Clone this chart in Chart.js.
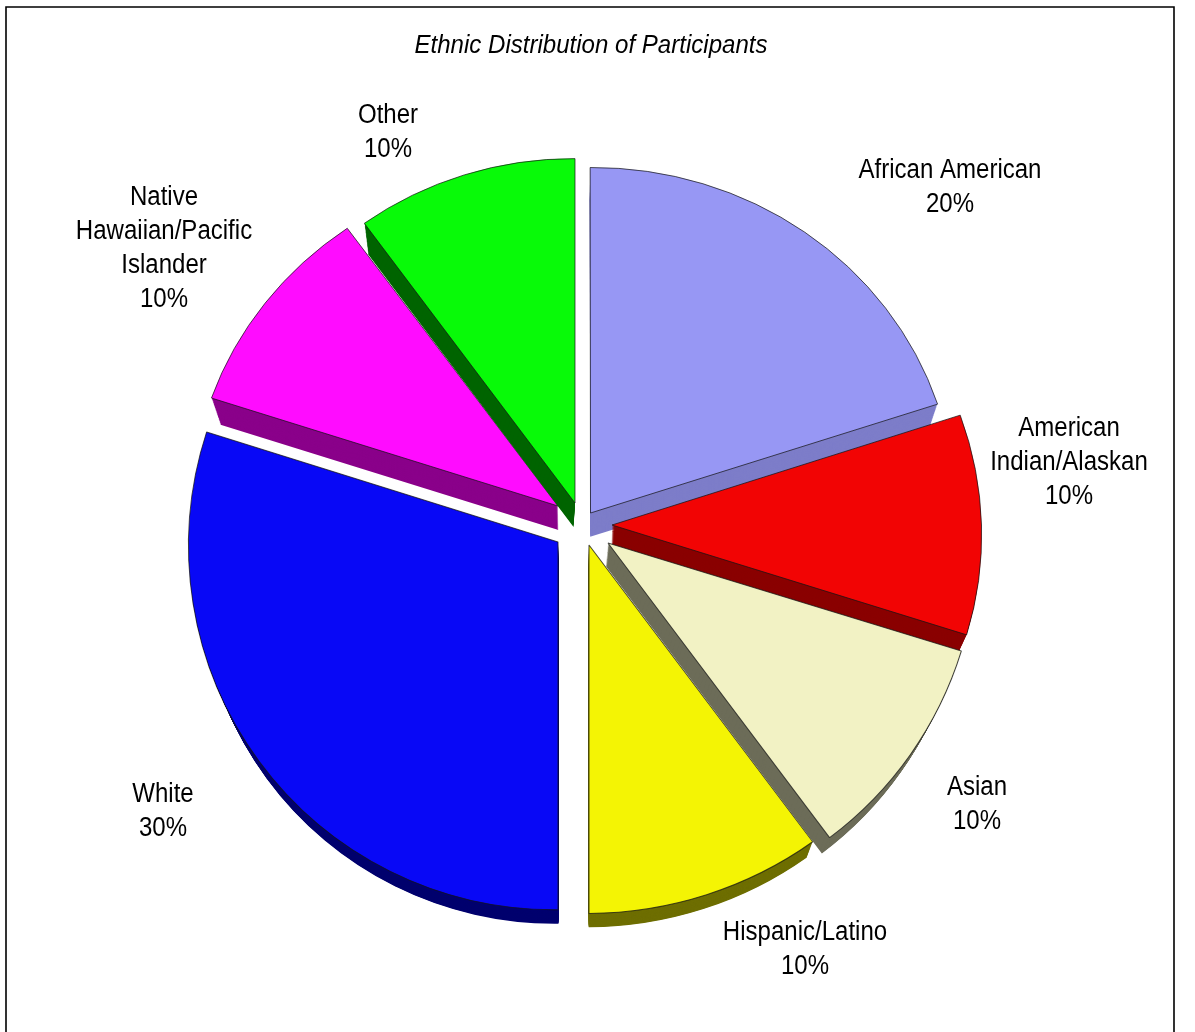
<!DOCTYPE html>
<html>
<head>
<meta charset="utf-8">
<title>Ethnic Distribution of Participants</title>
<script src="https://cdn.jsdelivr.net/npm/chart.js@4"></script>
<style>
  html, body { margin: 0; padding: 0; background: #fff; overflow: hidden; }
  canvas { display: block; }
</style>
</head>
<body>
<canvas id="ethnic-chart" width="1195" height="1032"></canvas>
<script>
// Chart data
const chartTitle = 'Ethnic Distribution of Participants';
const categories = ['African American', 'American Indian/Alaskan', 'Asian', 'Hispanic/Latino', 'White', 'Native Hawaiian/Pacific Islander', 'Other'];
const shares = [20, 10, 10, 10, 30, 10, 10];

// How the category names wrap in the picture
const labelLines = [
  ['African American'],
  ['American', 'Indian/Alaskan'],
  ['Asian'],
  ['Hispanic/Latino'],
  ['White'],
  ['Native', 'Hawaiian/Pacific', 'Islander'],
  ['Other']
];

// Slice colours
const faceColors = ['#9797f4', '#f20404', '#f2f2c4', '#f4f404', '#0808f6', '#ff0cff', '#08fa08'];
const sideColors = ['#7d7dc9', '#8a0000', '#6c6c58', '#6e6e00', '#00006e', '#8a008a', '#006400'];

// Style of the fake 3D: where each slice sits, its foreshortening (canvas transform a, b, c, d), paint order
const sliceShift = [[12.5, -14], [34, -2], [30, 16], [11, 18], [-20, 15], [-20, -21], [-3, -24]];
const sliceShape = [
  [0.988, -0.006, 0.001, 0.935],
  [1, 0, 0.028, 0.962],
  [1.001, -0.017, 0.014, 0.998],
  [1.03, -0.006, 0, 0.997],
  [1, -0.0105, 0, 0.995],
  [0.991, 0.007, -0.015, 0.924],
  [0.97, 0.005, 0, 0.932]
];
const sideLean = [0, 0, -1.5, 0, 0, 0, -1.5];
const paintOrder = [3, 4, 5, 6, 0, 1, 2];
const vanishPoint = { x: 578, y: 1477 };
const depth = 0.0247;

// Where the labels go (centre of first line), and the squeeze the narrow font needs
const labelAnchors = [[950, 171], [1069, 429], [977, 788], [805, 933], [163, 795], [164, 198], [388, 116]];
const lineStep = 34;
const labelFont = '27px "Liberation Sans"';
const squeeze = 0.89;

function placeSlice(ctx, arc, i, t) {
  const m = 1 - depth * t;
  ctx.translate(sideLean[i] * t, 0);
  ctx.translate(vanishPoint.x, vanishPoint.y);
  ctx.scale(m, m);
  ctx.translate(-vanishPoint.x, -vanishPoint.y);
  ctx.translate(arc.x + sliceShift[i][0], arc.y + sliceShift[i][1]);
  ctx.transform(...sliceShape[i], 0, 0);
  ctx.translate(-arc.x, -arc.y);
}

function drawSqueezed(ctx, text, x, y) {
  ctx.save();
  ctx.translate(x, y);
  ctx.scale(squeeze, 1);
  ctx.fillText(text, 0, 0);
  ctx.restore();
}

const explodedPie = {
  id: 'explodedPie',
  beforeDraw(chart) {
    const ctx = chart.ctx;
    ctx.save();
    ctx.fillStyle = '#fff';
    ctx.fillRect(0, 0, chart.width, chart.height);
    // frame has no bottom edge in the picture
    ctx.strokeStyle = '#000';
    ctx.lineWidth = 1.6;
    ctx.beginPath();
    ctx.moveTo(6, chart.height);
    ctx.lineTo(6, 7);
    ctx.lineTo(1174, 7);
    ctx.lineTo(1174, chart.height);
    ctx.stroke();
    ctx.restore();
  },
  beforeDatasetsDraw(chart) {
    const ctx = chart.ctx;
    const arcs = chart.getDatasetMeta(0).data;
    paintOrder.forEach(i => {
      const arc = arcs[i];
      const faceOptions = arc.options;
      // side wall: sweep the slice back towards the vanishing point
      arc.options = { ...faceOptions, backgroundColor: sideColors[i], borderWidth: 0 };
      for (let step = 24; step > 0; step--) {
        ctx.save();
        placeSlice(ctx, arc, i, step / 24);
        arc.draw(ctx);
        ctx.restore();
      }
      arc.options = faceOptions;
      ctx.save();
      placeSlice(ctx, arc, i, 0);
      arc.draw(ctx);
      ctx.restore();
    });
    return false;
  },
  afterDraw(chart) {
    const ctx = chart.ctx;
    ctx.save();
    ctx.fillStyle = '#000';
    ctx.textAlign = 'center';
    ctx.textBaseline = 'middle';

    ctx.font = 'italic 26px "Liberation Sans"';
    ctx.fillText(chartTitle, 591, 46, 353);

    ctx.font = labelFont;
    categories.forEach((name, i) => {
      const lines = labelLines[i].concat(shares[i] + '%');
      lines.forEach((line, n) => {
        drawSqueezed(ctx, line, labelAnchors[i][0], labelAnchors[i][1] + n * lineStep);
      });
    });
    ctx.restore();
  }
};

new Chart(document.getElementById('ethnic-chart'), {
  type: 'pie',
  data: {
    labels: categories,
    datasets: [{
      data: shares,
      backgroundColor: faceColors,
      borderColor: 'rgba(20, 20, 20, 0.75)',
      borderWidth: 1
    }]
  },
  options: {
    responsive: false,
    animation: false,
    events: [],
    layout: {
      padding: { left: 208, right: 247, top: 157, bottom: 135 }
    },
    plugins: {
      legend: { display: false },
      tooltip: { enabled: false }
    }
  },
  plugins: [explodedPie]
});
</script>
</body>
</html>
